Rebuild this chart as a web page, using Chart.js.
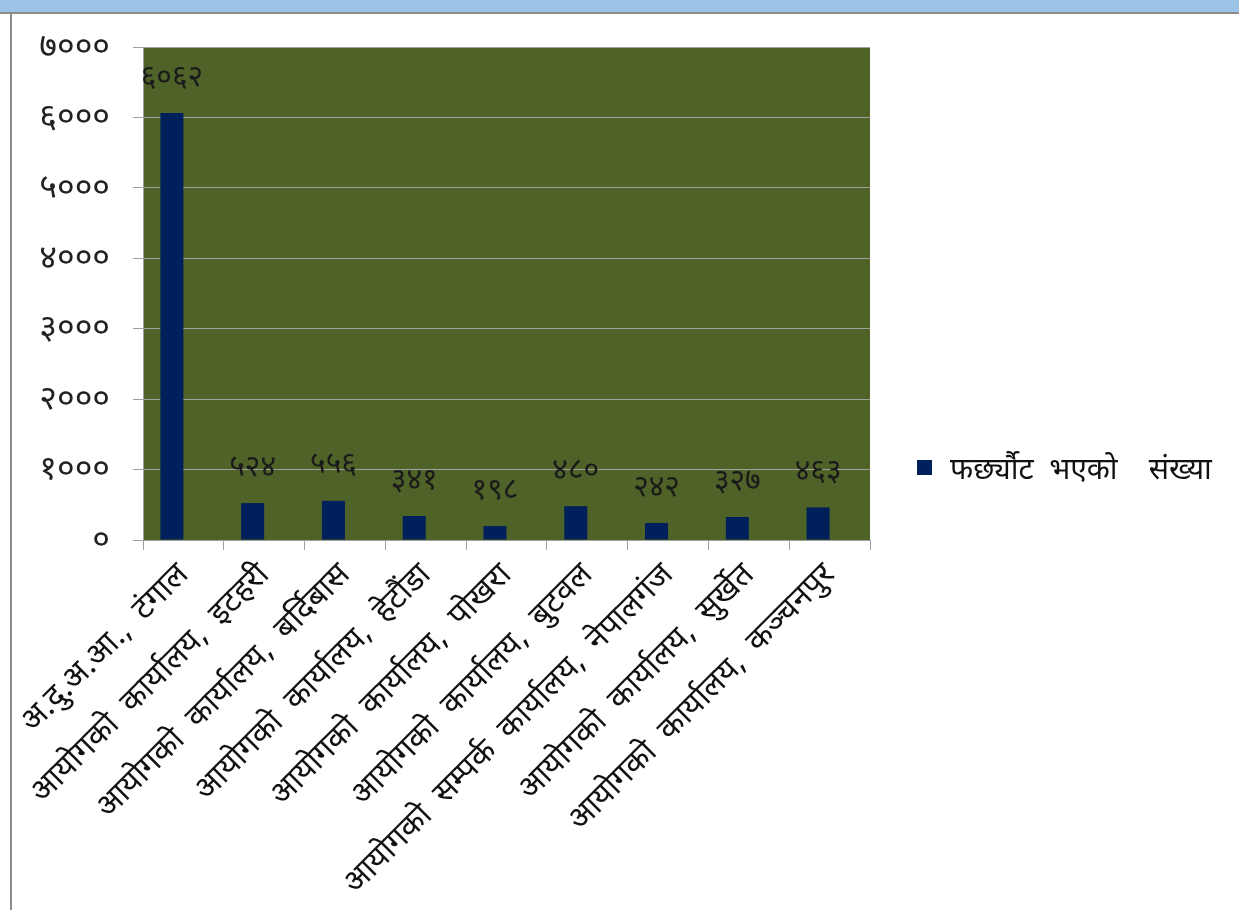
<!DOCTYPE html>
<html>
<head>
<meta charset="utf-8">
<script src="https://cdn.jsdelivr.net/npm/chart.js@4"></script>
<style>
html,body{margin:0;padding:0;background:#fff;}
#c{display:block;}
</style>
</head>
<body>
<canvas id="c" width="1239" height="910"></canvas>
<script>
const categories = [
  "अ.दु.अ.आ.,  टंगाल",
  "आयोगको  कार्यालय,  इटहरी",
  "आयोगको  कार्यालय,  बर्दिबास",
  "आयोगको  कार्यालय,  हेटौंडा",
  "आयोगको  कार्यालय,  पोखरा",
  "आयोगको  कार्यालय,  बुटवल",
  "आयोगको  सम्पर्क  कार्यालय,  नेपालगंज",
  "आयोगको  कार्यालय,  सुर्खेत",
  "आयोगको  कार्यालय,  कञ्चनपुर"
];
const seriesLabel = "फर्छ्यौट  भएको    संख्या";
const values = [6062, 524, 556, 341, 198, 480, 242, 327, 463];
// the source chart reserves room for a second, empty series
const emptySeries = [null, null, null, null, null, null, null, null, null];
const yMin = 0, yMax = 7000, yStep = 1000;

const devDigits = "०१२३४५६७८९";
function toDev(n){ return String(n).replace(/[0-9]/g, d => devDigits[+d]); }

const FONT = "'Noto Sans', 'DejaVu Sans', sans-serif";

const framePlugin = {
  id: 'frame',
  beforeDraw(chart){
    const ctx = chart.ctx;
    ctx.save();
    ctx.fillStyle = '#9DC3E6';
    ctx.fillRect(0, 0, chart.width, 12);
    ctx.fillStyle = '#8c8c8c';
    ctx.fillRect(0, 12, chart.width, 2);
    ctx.fillRect(10, 12, 2, chart.height - 12);
    const a = chart.chartArea;
    ctx.fillStyle = '#4F6228';
    ctx.fillRect(a.left, a.top, a.right - a.left, a.bottom - a.top);
    ctx.restore();
  },
  afterDatasetsDraw(chart){
    const ctx = chart.ctx;
    const meta = chart.getDatasetMeta(0);
    ctx.save();
    ctx.fillStyle = '#1a1a1a';
    ctx.font = "30px " + FONT;
    ctx.textAlign = 'center';
    ctx.textBaseline = 'middle';
    meta.data.forEach((bar, i) => {
      ctx.fillText(toDev(values[i]), bar.x, bar.y - 36);
    });
    // legend
    const ly = 468;
    ctx.fillStyle = chart.data.datasets[0].backgroundColor;
    ctx.fillRect(917, ly - 8, 15, 15);
    ctx.fillStyle = '#111';
    ctx.textAlign = 'left';
    ctx.font = "30px " + FONT;
    ctx.fillText(chart.data.datasets[0].label, 950, ly + 2);
    ctx.restore();
  }
};

new Chart(document.getElementById('c'), {
  type: 'bar',
  data: {
    labels: categories,
    datasets: [{
      label: seriesLabel,
      data: values,
      backgroundColor: '#00205B',
      borderWidth: 0,
      categoryPercentage: 0.57,
      barPercentage: 1
    }, {
      label: '',
      data: emptySeries,
      backgroundColor: 'rgba(0,0,0,0)',
      categoryPercentage: 0.57,
      barPercentage: 1
    }]
  },
  options: {
    responsive: false,
    animation: false,
    devicePixelRatio: 1,
    layout: { padding: { top: 47, left: 12, right: 369, bottom: 0 } },
    plugins: { legend: { display: false }, tooltip: { enabled: false } },
    scales: {
      x: {
        grid: { drawOnChartArea: false, color: '#a0a0a0', tickLength: 10, offset: true },
        border: { color: '#a0a0a0', width: 1 },
        ticks: {
          autoSkip: false, maxRotation: 45, minRotation: 45,
          color: '#111', font: { family: FONT, size: 32 }, padding: 6
        },
        afterFit(s){ s.height = 370; s.paddingLeft = 0; s.paddingRight = 0; }
      },
      y: {
        min: yMin, max: yMax,
        grid: { color: '#a0a0a0', tickLength: 10 },
        border: { color: '#a0a0a0', width: 1 },
        ticks: {
          stepSize: yStep, color: '#222', padding: 23,
          font: { family: FONT, size: 34 },
          callback: v => toDev(v)
        },
        afterFit(s){ s.width = 131; s.paddingTop = 0; s.paddingBottom = 0; }
      }
    }
  },
  plugins: [framePlugin]
});
</script>
</body>
</html>
